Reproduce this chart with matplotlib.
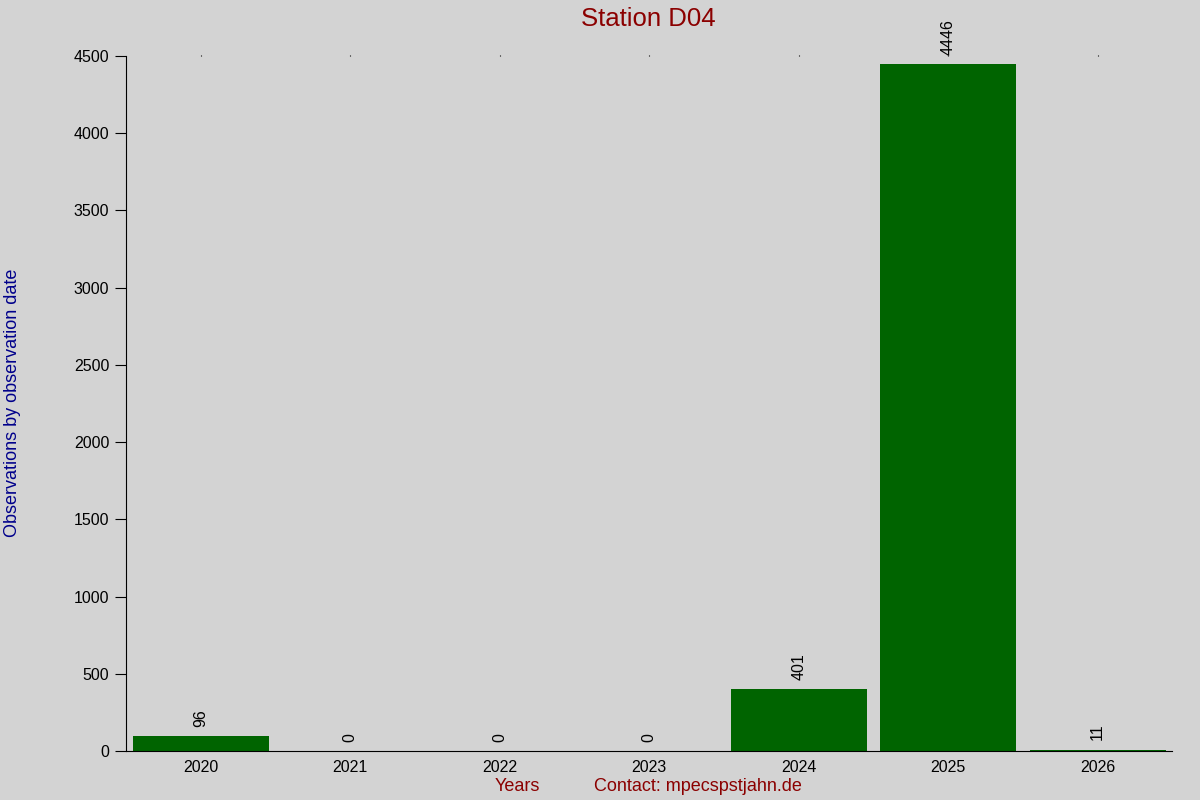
import matplotlib
matplotlib.use("Agg")
import matplotlib.pyplot as plt

years = ["2020", "2021", "2022", "2023", "2024", "2025", "2026"]
counts = [96, 0, 0, 0, 401, 4446, 11]

plt.rcParams['font.family'] = ['Liberation Sans', 'DejaVu Sans']

fig = plt.figure(figsize=(12, 8), dpi=100, facecolor='#d3d3d3')
ax = fig.add_axes([0.105, 0.061, 0.872, 0.869])
ax.set_facecolor('#d3d3d3')

x = list(range(len(years)))
ax.bar(x, counts, width=0.91, color='#006400')
for xi, c in zip(x, counts):
    ax.text(xi, c + 60, str(c), rotation=90, ha='center', va='bottom', fontsize=11.5)

ax.set_xlim(-0.5, 6.5)
ax.set_ylim(0, 4500)
ax.set_xticks(x)
ax.set_xticklabels(years)
ax.set_yticks(range(0, 4501, 500))
ax.tick_params(axis='x', length=0, labelsize=11.5, pad=6)
ax.tick_params(axis='y', length=8, labelsize=11.5, pad=4)
ax.spines['top'].set_visible(False)
ax.spines['right'].set_visible(False)

# tiny tick dots along the top edge
top = ax.secondary_xaxis('top')
top.set_xticks(x)
top.set_xticklabels([])
top.tick_params(length=1, width=0.8)
top.spines['top'].set_visible(False)

fig.text(0.54, 0.976, "Station D04", color='#8b0000', fontsize=18.5, ha='center', va='center')
fig.text(0.431, 0.017, "Years", color='#8b0000', fontsize=13, ha='center', va='center')
fig.text(0.582, 0.017, "Contact: mpecspstjahn.de", color='#8b0000', fontsize=13, ha='center', va='center')
fig.text(0.0105, 0.497, "Observations by observation date", color='#00008b', fontsize=13,
         rotation=90, ha='center', va='center')

fig.savefig("out.png", dpi=100, facecolor=fig.get_facecolor())
